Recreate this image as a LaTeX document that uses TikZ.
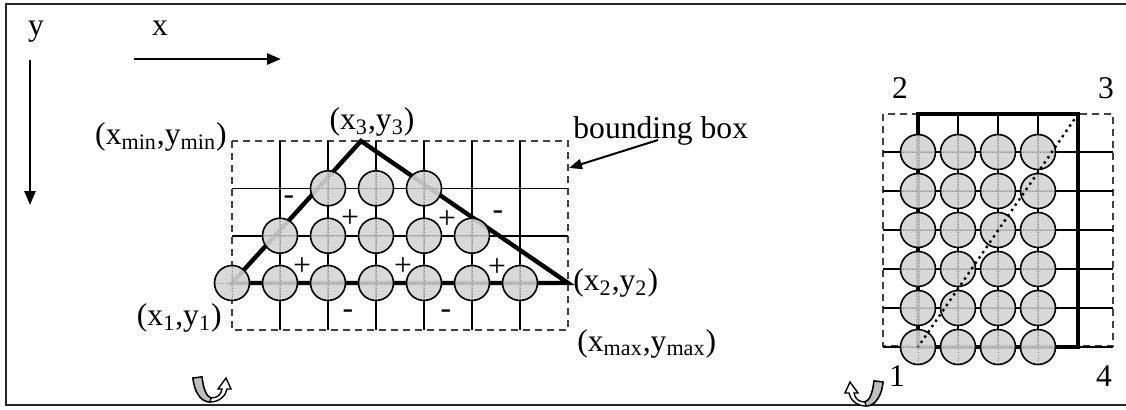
\documentclass[tikz,border=0pt]{standalone}
\usepackage{fontspec}
\setmainfont{Liberation Serif}
\usetikzlibrary{arrows.meta}

\begin{document}
\begin{tikzpicture}[
  x=0.5pt, y=-0.5pt,
  font=\fontsize{15.8}{19}\selectfont,
  lbl/.style={inner sep=0pt},
  gridln/.style={line width=0.8pt},
  bbox/.style={line width=0.6pt, dash pattern=on 3.5pt off 2.5pt, black!75},
  edge/.style={line width=2.2pt},
  cell/.style={circle, draw, line width=0.8pt, fill=black!17, fill opacity=0.9, minimum size=17.5pt, inner sep=0pt,
    path picture={\draw[black!45, densely dotted, line width=0.4pt]
      (path picture bounding box.west) -- (path picture bounding box.east)
      (path picture bounding box.north) -- (path picture bounding box.south);}},
  a/.style={-{Triangle[length=7pt,width=5.5pt]}, line width=1.3pt},
  a2/.style={-{Triangle[length=6.5pt,width=5pt]}, line width=1pt},
  diag/.style={dotted, line width=1.2pt},
  rot/.style={line width=0.7pt},
]
\useasboundingbox (0,0) rectangle (1126,409);
% frame
\draw[line width=1pt, black!85] (1126,4) -- (6,4) -- (6,405) -- (1126,405);
% axes
\coordinate (xtail) at (134,59);
\coordinate (xhead) at (281,59);
\coordinate (ytail) at (30,60);
\coordinate (yhead) at (30,205);
\draw[a] (xtail) -- (xhead);
\draw[a] (ytail) -- (yhead);
\node[lbl, anchor=base] (xlbl) at (160,35) {x};
\node[lbl, anchor=base] (ylbl) at (36,35) {y};

% left: bounding box, grid and triangle
\draw[bbox] (232,141) rectangle (568,330);
\foreach \i in {1,...,6}
  \draw[gridln] (232+48*\i,141) -- (232+48*\i,330);
\foreach \y in {188.3,235.7}
  \draw[gridln] (232,\y) -- (568,\y);
\coordinate (v1) at (232,283);
\coordinate (v2) at (568,283);
\coordinate (v3) at (361,141);
\draw[edge] (v1) -- (v3) -- (v2) -- cycle;
\foreach \c in {2,3,4}
  \node[cell] (a-\c) at (232+48*\c,188.3) {};
\foreach \c in {1,...,5}
  \node[cell] (b-\c) at (232+48*\c,235.7) {};
\foreach \c in {0,...,6}
  \node[cell] (c-\c) at (232+48*\c,283) {};
\foreach \p/\q [count=\k] in {350/219, 447/220, 302/267, 403/267, 497/268}
  \node[lbl] (plus\k) at (\p,\q) {+};
\foreach \p/\q [count=\k] in {289/200, 498/215, 348/314, 446/314}
  \node[lbl] (minus\k) at (\p,\q) {-};
\node[lbl, anchor=east] (minlbl) at (227,137) {(x\textsubscript{min},y\textsubscript{min})};
\node[lbl] (v3lbl) at (372,122) {(x\textsubscript{3},y\textsubscript{3})};
\node[lbl, anchor=west] (v2lbl) at (573,283) {(x\textsubscript{2},y\textsubscript{2})};
\node[lbl, anchor=west] (maxlbl) at (577,344) {(x\textsubscript{max},y\textsubscript{max})};
\node[lbl, anchor=east] (v1lbl) at (222,318) {(x\textsubscript{1},y\textsubscript{1})};
\node[lbl, anchor=base west] (bblbl) at (573,138) {bounding box};
\coordinate (bbtail) at (658,140);
\coordinate (bbtip) at (569,168);
\draw[a2] (bbtail) -- (bbtip);

% right: rectangle
\draw[bbox] (883,114) rectangle (1113,346);
\foreach \r in {0,...,5}
  \draw[gridln] (883,152+39*\r) -- (1113,152+39*\r);
\foreach \c in {1,2,3}
  \draw[gridln] (918+40*\c,114) -- (918+40*\c,347);
\coordinate (q1) at (918,347);
\coordinate (q2) at (918,114);
\coordinate (q3) at (1078,114);
\coordinate (q4) at (1078,347);
\draw[edge] (q1) -- (q2) -- (q3) -- (q4) -- cycle;
\foreach \r in {0,...,5}
  \foreach \c in {0,...,3}
    \node[cell] (m-\r-\c) at (918+40*\c,152+39*\r) {};
\draw[diag] (q3) -- (q1);
\node[lbl] (n1) at (897,376) {1};
\node[lbl] (n2) at (900,88) {2};
\node[lbl] (n3) at (1106,88) {3};
\node[lbl] (n4) at (1104,376) {4};

% turning symbols
\begin{scope}[shift={(193,377)}]
  \draw[rot, fill=white] (0,1) .. controls (1,13) and (7,25) .. (17,25)
    .. controls (26,25) and (33,19) .. (34,12) -- (38,12) -- (33,1) -- (25,12) -- (29,12)
    .. controls (28,18) and (24,21) .. (18,21)
    .. controls (13,20) and (10,10) .. (9,0) -- cycle;
  \draw[rot, fill=black!25] (0,1) .. controls (1,13) and (7,25) .. (17,25) -- (18,21)
    .. controls (13,20) and (10,10) .. (9,0) -- cycle;
\end{scope}
\begin{scope}[shift={(883,381)}, xscale=-1]
  \draw[rot, fill=white] (0,1) .. controls (1,13) and (7,25) .. (17,25)
    .. controls (26,25) and (33,19) .. (34,12) -- (38,12) -- (33,1) -- (25,12) -- (29,12)
    .. controls (28,18) and (24,21) .. (18,21)
    .. controls (13,20) and (10,10) .. (9,0) -- cycle;
  \draw[rot, fill=black!25] (0,1) .. controls (1,13) and (7,25) .. (17,25) -- (18,21)
    .. controls (13,20) and (10,10) .. (9,0) -- cycle;
\end{scope}
\end{tikzpicture}
\end{document}
